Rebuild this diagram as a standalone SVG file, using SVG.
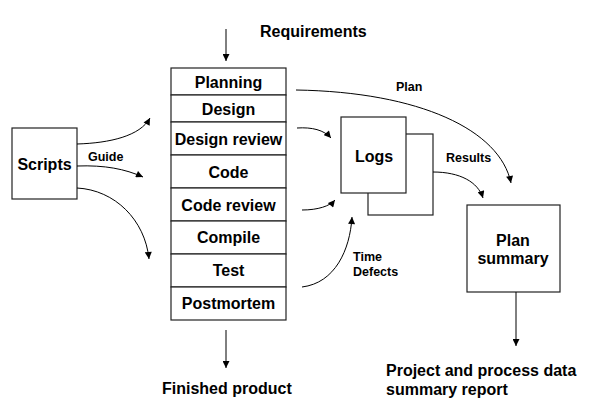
<svg xmlns="http://www.w3.org/2000/svg" width="593" height="420" viewBox="0 0 593 420">
<style>
.box{fill:#fff;stroke:#222;stroke-width:1.2}
.t{font-family:"Liberation Sans",Arial,sans-serif;font-weight:bold;font-size:16px;fill:#000}
.s{font-family:"Liberation Sans",Arial,sans-serif;font-weight:bold;font-size:12.5px;fill:#000}
.c{text-anchor:middle}
.e{fill:none;stroke:#000;stroke-width:1}
</style>
<defs>
<marker id="ah" viewBox="0 0 10 10" refX="10" refY="5" markerWidth="8" markerHeight="7" orient="auto" markerUnits="userSpaceOnUse">
<path d="M0,0 L10,5 L0,10 z" fill="#000"/>
</marker>
</defs>
<rect width="593" height="420" fill="#fff"/>

<g id="requirements"><text class="t" x="260" y="37">Requirements</text></g>

<g id="stack">
<g id="planning"><rect class="box" x="171" y="68" width="115" height="27"/><text class="t c" x="228.5" y="88">Planning</text></g>
<g id="design"><rect class="box" x="171" y="95" width="115" height="27"/><text class="t c" x="228.5" y="115">Design</text></g>
<g id="design-review"><rect class="box" x="171" y="122" width="115" height="33"/><text class="t c" x="228.5" y="145">Design review</text></g>
<g id="code"><rect class="box" x="171" y="155" width="115" height="33"/><text class="t c" x="228.5" y="178">Code</text></g>
<g id="code-review"><rect class="box" x="171" y="188" width="115" height="33"/><text class="t c" x="228.5" y="211">Code review</text></g>
<g id="compile"><rect class="box" x="171" y="221" width="115" height="33"/><text class="t c" x="228.5" y="243">Compile</text></g>
<g id="test"><rect class="box" x="171" y="254" width="115" height="33"/><text class="t c" x="228.5" y="276">Test</text></g>
<g id="postmortem"><rect class="box" x="171" y="287" width="115" height="33"/><text class="t c" x="228.5" y="309">Postmortem</text></g>
</g>

<g id="scripts"><rect class="box" x="12" y="128" width="65" height="71"/><text class="t c" x="44.5" y="170">Scripts</text></g>

<g id="logs">
<rect class="box" x="368" y="134" width="65" height="81"/>
<rect class="box" x="341" y="117" width="65" height="76"/>
<text class="t c" x="374" y="162">Logs</text>
</g>

<g id="plan-summary"><rect class="box" x="467" y="205" width="93" height="87"/><text class="t c" x="513" y="246">Plan</text><text class="t c" x="513" y="264">summary</text></g>

<g id="finished"><text class="t" x="162" y="394">Finished product</text></g>
<g id="report"><text class="t" x="386" y="376">Project and process data</text><text class="t" x="386" y="395">summary report</text></g>

<g id="connectors">
<path class="e" d="M226,29 L226,61" marker-end="url(#ah)"/>
<path class="e" d="M226,330 L226,368" marker-end="url(#ah)"/>
<path class="e" d="M516,292 L516,346" marker-end="url(#ah)"/>
<path class="e" d="M77,144 C110,143 140,136 150,118" marker-end="url(#ah)"/>
<path class="e" d="M77,166 C105,165 125,169 143,177" marker-end="url(#ah)"/>
<path class="e" d="M77,188 C115,190 145,220 149,259" marker-end="url(#ah)"/>
<path class="e" d="M297,128 C312,127 324,130 331,138" marker-end="url(#ah)"/>
<path class="e" d="M302,210 C318,210 330,206 335,200" marker-end="url(#ah)"/>
<path class="e" d="M302,287 C335,283 350,250 352,217" marker-end="url(#ah)"/>
<path class="e" d="M296,90 C420,92 500,130 511,183" marker-end="url(#ah)"/>
<path class="e" d="M433,172 C460,172 478,182 483,198" marker-end="url(#ah)"/>
<text class="s" x="88" y="161">Guide</text>
<text class="s" x="396" y="91">Plan</text>
<text class="s" x="446" y="162">Results</text>
<text class="s" x="353" y="261">Time</text>
<text class="s" x="353" y="276">Defects</text>
</g>
</svg>
